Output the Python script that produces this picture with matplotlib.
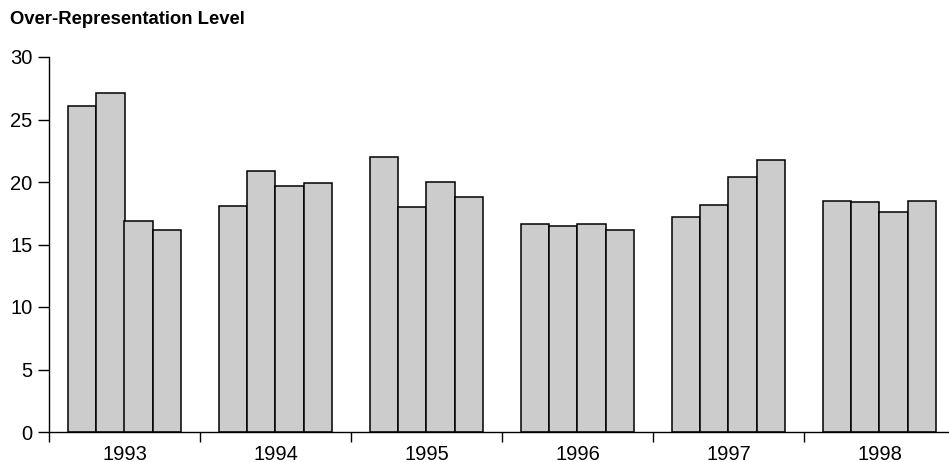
import matplotlib
matplotlib.use("Agg")
import matplotlib.pyplot as plt
import numpy as np

years = ["1993", "1994", "1995", "1996", "1997", "1998"]
v1 = [26.1, 18.1, 22.0, 16.6, 17.2, 18.5]
v2 = [27.1, 20.9, 18.0, 16.5, 18.2, 18.4]
v3 = [16.9, 19.7, 20.0, 16.6, 20.4, 17.6]
v4 = [16.2, 19.9, 18.8, 16.2, 21.8, 18.5]
series = [v1, v2, v3, v4]
yticks = [0, 5, 10, 15, 20, 25, 30]
title = "Over-Representation Level"

plt.rcParams['font.family'] = ['Liberation Sans', 'DejaVu Sans']

W, H = 949, 462
fig = plt.figure(figsize=(W / 100, H / 100), dpi=100)
left_px, right_px, zero_px, top_px = 49, 948, 432, 57
ax = fig.add_axes([left_px / W, (H - zero_px) / H, (right_px - left_px) / W, (zero_px - top_px) / H])

x = np.arange(len(years))
bw = 0.1875
for k, s in enumerate(series):
    ax.bar(x + 0.125 + bw * (k + 0.5), s, width=bw, color="#cccccc",
           edgecolor="black", linewidth=1.1, zorder=2)

ax.set_xlim(0, (right_px - left_px) / 151.0)
ax.set_ylim(0, 30)
for sp in ["top", "right"]:
    ax.spines[sp].set_visible(False)
ax.spines["left"].set_linewidth(1.0)
ax.spines["bottom"].set_linewidth(1.0)

ax.set_yticks(yticks)
ax.set_yticklabels([str(t) for t in yticks])
ax.tick_params(axis="y", length=8, width=1.0, labelsize=14.5, pad=4)

ax.set_xticks(np.arange(len(years)))
ax.set_xticklabels([""] * len(years))
ax.tick_params(axis="x", which="major", length=7, width=1.0)
ax.set_xticks(x + 0.5, minor=True)
ax.set_xticklabels(years, minor=True)
ax.tick_params(axis="x", which="minor", length=0, labelsize=14.5, pad=9)

fig.text(10 / W, 1 - 20 / H, title, fontsize=13.3, fontweight="bold", va="center", ha="left")

fig.savefig("out.png", dpi=100)
